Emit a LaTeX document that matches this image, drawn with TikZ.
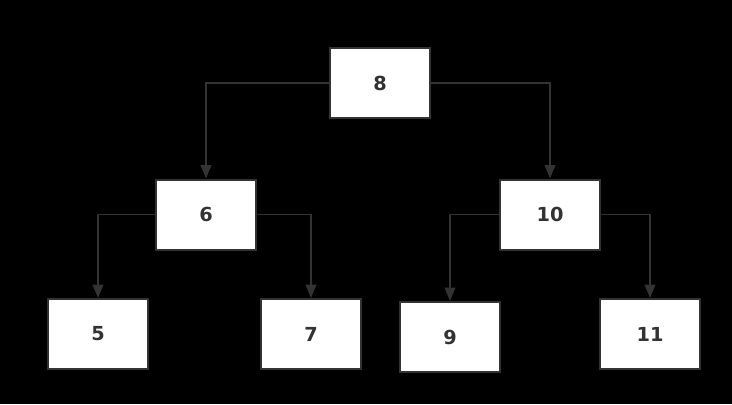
\documentclass[tikz,border=0pt]{standalone}
\usepackage{fontspec}
\setmainfont{DejaVu Sans}
\usetikzlibrary{arrows.meta}
\definecolor{edge}{HTML}{333333}
\tikzset{
  treebox/.style={draw=edge, line width=1.5pt, fill=white, minimum width=75pt, minimum height=52.5pt, inner sep=0pt, font=\fontsize{14.5}{16}\selectfont\bfseries, text=edge},
  link/.style={draw=edge, line width=1.1pt, -{Triangle[length=10pt,width=8pt]}}
}
\begin{document}
\begin{tikzpicture}[x=0.75pt,y=-0.75pt]
\fill[black] (0,0) rectangle (732,404);
\useasboundingbox (0,0) rectangle (732,404);
\node[treebox] (n8) at (380,83) {8};
\node[treebox] (n6) at (206,214.5) {6};
\node[treebox] (n10) at (550,214.5) {10};
\node[treebox] (n5) at (98,334) {5};
\node[treebox] (n7) at (311,334) {7};
\node[treebox] (n9) at (450,337) {9};
\node[treebox] (n11) at (650,334) {11};
\draw[link] (n8.west) -| (n6.north);
\draw[link] (n8.east) -| (n10.north);
\draw[link] (n6.west) -| (n5.north);
\draw[link] (n6.east) -| (n7.north);
\draw[link] (n10.west) -| (n9.north);
\draw[link] (n10.east) -| (n11.north);
\end{tikzpicture}
\end{document}
